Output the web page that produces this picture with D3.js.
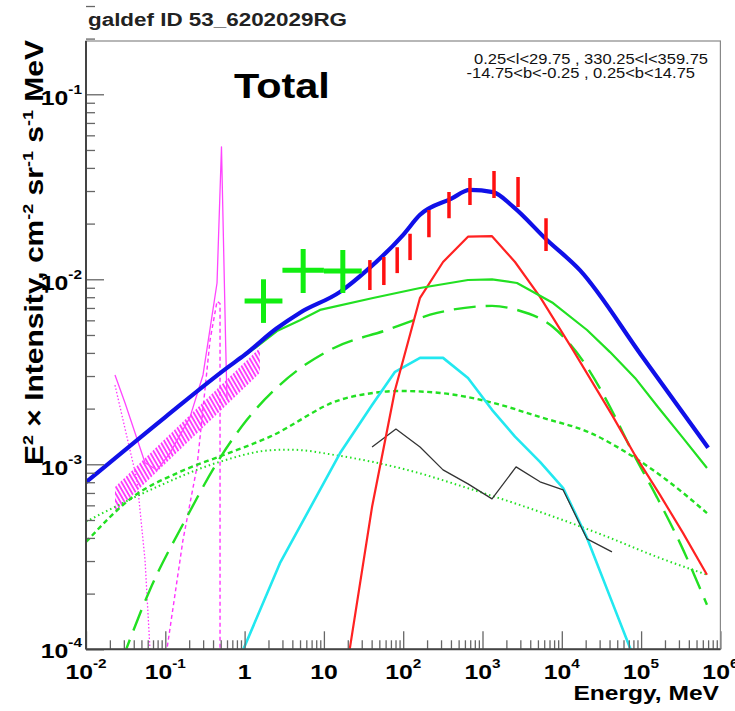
<!DOCTYPE html>
<html>
<head>
<meta charset="utf-8">
<script src="https://cdn.jsdelivr.net/npm/d3@7"></script>
<style>
  body { margin: 0; background: #fff; }
  text { font-family: "Liberation Sans", Arial, Helvetica, sans-serif; }
</style>
</head>
<body>
<script>
const width = 735;
const height = 711;

// ---- data (energy in MeV, E^2 x intensity) ----
const totalE = [0.01, 0.1, 0.6, 1, 2.5, 5, 16, 35, 100, 163, 400, 695, 1356, 2427, 6500, 16900, 100000, 700000];
const totalI = [8.0e-4, 1.8e-3, 3.32e-3, 3.9e-3, 5.4e-3, 6.6e-3, 8.55e-3, 1.12e-2, 1.74e-2, 2.23e-2, 2.72e-2, 3.04e-2, 2.96e-2, 2.47e-2, 1.63e-2, 1.12e-2, 3.9e-3, 1.23e-3];

const sumE = [1, 2.56, 5, 8.93, 41.6, 163, 656, 1318, 2723, 7760, 20800, 40600, 83800, 163000, 337000, 677000];
const sumI = [3.85e-3, 5.25e-3, 6.0e-3, 6.83e-3, 7.92e-3, 8.97e-3, 9.91e-3, 1.0e-2, 9.55e-3, 7.44e-3, 5.32e-3, 4.04e-3, 2.93e-3, 2.04e-3, 1.39e-3, 9.55e-4];

const icE = [0.0284, 0.0641, 0.188, 0.449, 1.07, 2.79, 11.9, 62.5, 267, 1318, 2723, 7740, 20800, 40600, 79000, 158000, 309000, 677000];
const icI = [8.7e-5, 2.1e-4, 5.21e-4, 1.02e-3, 1.74e-3, 2.69e-3, 4.15e-3, 5.32e-3, 6.58e-3, 7.18e-3, 6.83e-3, 5.52e-3, 3.36e-3, 2.04e-3, 1.15e-3, 6.65e-4, 3.76e-4, 1.74e-4];

const bremE = [0.01, 0.0392, 0.153, 0.534, 2.09, 16, 41.6, 91, 291, 1245, 5310, 22700, 79000, 212000, 677000];
const bremI = [3.8e-4, 6.67e-4, 9.1e-4, 1.12e-3, 1.41e-3, 2.23e-3, 2.43e-3, 2.49e-3, 2.43e-3, 2.17e-3, 1.8e-3, 1.48e-3, 1.1e-3, 8.2e-4, 5.45e-4];

const dotE = [0.01, 0.0785, 0.449, 2.09, 3.7, 16, 112, 759, 5310, 37200, 158000, 677000];
const dotI = [4.9e-4, 7.55e-4, 1.02e-3, 1.19e-3, 1.2e-3, 1.11e-3, 9.33e-4, 7.28e-4, 5.53e-4, 4.06e-4, 3.16e-4, 2.53e-4];

const pi0E = [20.1, 40.5, 78.9, 163, 318, 656, 1318, 2570, 5310, 13800, 42900, 83800, 173000, 337000, 677000];
const pi0I = [8.7e-5, 5.89e-4, 2.52e-3, 7.94e-3, 1.24e-2, 1.7e-2, 1.71e-2, 1.24e-2, 8.04e-3, 4.15e-3, 1.85e-3, 1.12e-3, 6.83e-4, 4.26e-4, 2.53e-4];

const cyanE = [0.85, 2.79, 16, 40.5, 78.9, 163, 318, 656, 1318, 2570, 5310, 10400, 20800, 40600, 72400, 83000];
const cyanI = [8.8e-5, 2.92e-4, 1.15e-3, 2.09e-3, 3.16e-3, 3.76e-3, 3.76e-3, 2.93e-3, 1.97e-3, 1.41e-3, 1.03e-3, 7.44e-4, 4.0e-4, 1.92e-4, 1.02e-4, 8.8e-5];

const blackE = [40.5, 81, 163, 318, 656, 1318, 2650, 5310, 10400, 20800, 42900];
const blackI = [1.24e-3, 1.55e-3, 1.24e-3, 9.33e-4, 7.84e-4, 6.5e-4, 9.68e-4, 8.04e-4, 7.27e-4, 3.95e-4, 3.36e-4];

const magSolidE = [0.0232, 0.031, 0.0555, 0.0786, 0.1146, 0.205, 0.299, 0.449, 0.511, 0.578, 0.6];
const magSolidI = [3.04e-3, 2.15e-3, 1.02e-3, 9.31e-4, 1.15e-3, 1.8e-3, 3.04e-3, 9.55e-3, 5.2e-2, 4.33e-3, 2.23e-3];

const magDotE = [0.0232, 0.0329, 0.044, 0.0555, 0.0641, 0.0653];
const magDotI = [2.68e-3, 1.4e-3, 8.2e-4, 3.04e-4, 1.0e-4, 8.7e-5];

const magDashE = [0.1, 0.167, 0.251, 0.367, 0.449, 0.49, 0.49];
const magDashI = [8.7e-5, 3.89e-4, 9.68e-4, 4.7e-3, 7.6e-3, 7.4e-3, 8.7e-5];

const bandE = [0.0232, 1.56];
const bandHi = [7.53e-4, 4.26e-3];
const bandLo = [5.52e-4, 3.12e-3];

// EGRET-like points (vertical error bars only)
const egretE = [38, 57, 84, 122, 211, 378, 695, 1397, 2806, 6324];
const egretLo = [8.75e-3, 9.31e-3, 1.08e-2, 1.27e-2, 1.69e-2, 2.14e-2, 2.52e-2, 2.75e-2, 2.46e-2, 1.42e-2];
const egretHi = [1.27e-2, 1.32e-2, 1.49e-2, 1.76e-2, 2.37e-2, 2.96e-2, 3.53e-2, 3.85e-2, 3.57e-2, 2.14e-2];

// COMPTEL-like crosses
const comptelElo = [1, 3, 10];
const comptelEhi = [3, 10, 30];
const comptelI = [7.64e-3, 1.12e-2, 1.11e-2];
const comptelLo = [5.81e-3, 8.43e-3, 8.43e-3];
const comptelHi = [1.0e-2, 1.46e-2, 1.44e-2];

const xMajor = [1e-2, 1e-1, 1, 10, 1e2, 1e3, 1e4, 1e5, 1e6];
const xLabelBase = ["10", "10", "1", "10", "10", "10", "10", "10", "10"];
const xLabelExp = ["-2", "-1", "", "", "2", "3", "4", "5", "6"];
const yMajor = [1e-4, 1e-3, 1e-2, 1e-1];
const yLabelExp = ["-4", "-3", "-2", "-1"];

/////////////////////////////////
const pLeft = 86, pRight = 720.4, pTop = 41, pBottom = 649.3;
const yTop = Math.pow(10, -0.712);
const sx = 1.18; // root fonts come out wider than liberation

const x = d3.scaleLog().domain([1e-2, 1e6]).range([pLeft, pRight]);
const y = d3.scaleLog().domain([1e-4, yTop]).range([pBottom, pTop]);

const svg = d3.select("body").append("svg")
  .attr("width", width)
  .attr("height", height);

svg.append("rect").attr("width", width).attr("height", height).attr("fill", "#fff");

const defs = svg.append("defs");
defs.append("clipPath").attr("id", "plotclip")
  .append("rect")
  .attr("x", pLeft).attr("y", pTop)
  .attr("width", pRight - pLeft).attr("height", pBottom - pTop);

const pat = defs.append("pattern")
  .attr("id", "hatch")
  .attr("patternUnits", "userSpaceOnUse")
  .attr("width", 3.6).attr("height", 4)
  .attr("patternTransform", "rotate(-30)");
pat.append("line")
  .attr("x1", 1).attr("y1", 0).attr("x2", 1).attr("y2", 4)
  .attr("stroke", "#ff2eff").attr("stroke-width", 1.8);

const plot = svg.append("g").attr("clip-path", "url(#plotclip)");

// hatched band
const band = d3.area()
  .x((d) => x(d[0]))
  .y0((d) => y(d[2]))
  .y1((d) => y(d[1]));
plot.append("path")
  .datum(d3.zip(bandE, bandHi, bandLo))
  .attr("d", band)
  .attr("fill", "url(#hatch)");

const lineLin = d3.line().x((d) => x(d[0])).y((d) => y(d[1]));
const lineSmooth = d3.line().x((d) => x(d[0])).y((d) => y(d[1])).curve(d3.curveMonotoneX);

const drawLine = (E, I, color, w, dash, gen) => {
  plot.append("path")
    .datum(d3.zip(E, I))
    .attr("d", gen || lineLin)
    .attr("fill", "none")
    .attr("stroke", color)
    .attr("stroke-width", w)
    .attr("stroke-dasharray", dash || null)
    .attr("stroke-linejoin", "round");
};

const green = "#22e022";
drawLine(magDotE, magDotI, "#ff33ff", 1.3, "1.5,2");
drawLine(magDashE, magDashI, "#ff33ff", 1.4, "4,3");
drawLine(magSolidE, magSolidI, "#ff44ff", 1.3);
drawLine(dotE, dotI, green, 2, "1.5,3", lineSmooth);
drawLine(bremE, bremI, green, 2.4, "5,3.5", lineSmooth);
drawLine(icE, icI, green, 2.4, "22,10", lineSmooth);
drawLine(cyanE, cyanI, "#22e8f0", 2.6);
drawLine(blackE, blackI, "#333333", 1.3);
drawLine(pi0E, pi0I, "#ff2222", 2.2);
drawLine(sumE, sumI, green, 2.2);
drawLine(totalE, totalI, "#1010e8", 4.2, null, lineSmooth);

// data points
plot.selectAll("line.egret")
  .data(d3.range(egretE.length))
  .join("line")
  .attr("class", "egret")
  .attr("x1", (i) => x(egretE[i])).attr("x2", (i) => x(egretE[i]))
  .attr("y1", (i) => y(egretLo[i])).attr("y2", (i) => y(egretHi[i]))
  .attr("stroke", "#ff1010").attr("stroke-width", 3.5);

const comptel = plot.selectAll("g.comptel")
  .data(d3.range(comptelI.length))
  .join("g")
  .attr("class", "comptel");
comptel.append("line")
  .attr("x1", (i) => x(comptelElo[i])).attr("x2", (i) => x(comptelEhi[i]))
  .attr("y1", (i) => y(comptelI[i])).attr("y2", (i) => y(comptelI[i]))
  .attr("stroke", "#11ee11").attr("stroke-width", 5);
comptel.append("line")
  .attr("x1", (i) => x(Math.sqrt(comptelElo[i] * comptelEhi[i])))
  .attr("x2", (i) => x(Math.sqrt(comptelElo[i] * comptelEhi[i])))
  .attr("y1", (i) => y(comptelLo[i])).attr("y2", (i) => y(comptelHi[i]))
  .attr("stroke", "#11ee11").attr("stroke-width", 5);

// ---- axes (ROOT style, ticks inside) ----
const xMinor = [];
for (let e = -2; e < 6; e++) for (let k = 2; k <= 9; k++) xMinor.push(k * Math.pow(10, e));
const yMinor = [];
for (let e = -4; e < 0; e++) for (let k = 2; k <= 9; k++) yMinor.push(k * Math.pow(10, e));

const tickColor = "#666";
const styleAxis = (g) => {
  g.select(".domain").remove();
  g.selectAll("line").attr("stroke", tickColor).attr("stroke-width", 1.3);
  g.selectAll("text").remove();
};

svg.append("g").attr("transform", "translate(0," + pBottom + ")")
  .call(d3.axisBottom(x).tickValues(xMinor).tickSize(-9)).call(styleAxis);
svg.append("g").attr("transform", "translate(0," + pBottom + ")")
  .call(d3.axisBottom(x).tickValues(xMajor).tickSize(-18)).call(styleAxis);
svg.append("g").attr("transform", "translate(" + pLeft + ",0)")
  .call(d3.axisLeft(y).tickValues(yMinor).tickSize(-9)).call(styleAxis);
svg.append("g").attr("transform", "translate(" + pLeft + ",0)")
  .call(d3.axisLeft(y).tickValues(yMajor).tickSize(-18)).call(styleAxis);

// frame
svg.append("rect")
  .attr("x", pLeft).attr("y", pTop)
  .attr("width", pRight - pLeft).attr("height", pBottom - pTop)
  .attr("fill", "none").attr("stroke", "#888").attr("stroke-width", 1.2);
svg.append("line")
  .attr("x1", pLeft).attr("x2", pLeft).attr("y1", pTop).attr("y2", pBottom)
  .attr("stroke", "#444").attr("stroke-width", 2);
svg.append("line")
  .attr("x1", pLeft).attr("x2", pRight).attr("y1", pBottom).attr("y2", pBottom)
  .attr("stroke", "#444").attr("stroke-width", 2);

// tick labels
const xl = svg.selectAll("text.xlab")
  .data(d3.range(xMajor.length))
  .join("text")
  .attr("class", "xlab")
  .attr("transform", (i) => "translate(" + x(xMajor[i]) + ",679) scale(" + sx + ",1)")
  .attr("text-anchor", "middle")
  .attr("font-size", 21)
  .attr("font-weight", "bold");
xl.append("tspan").text((i) => xLabelBase[i]);
xl.append("tspan")
  .attr("dy", -11)
  .attr("font-size", 13)
  .text((i) => xLabelExp[i]);

const yl = svg.selectAll("text.ylab")
  .data(d3.range(yMajor.length))
  .join("text")
  .attr("class", "ylab")
  .attr("transform", (i) => "translate(82," + (y(yMajor[i]) + (i === 0 ? 9 : 11)) + ") scale(" + sx + ",1)")
  .attr("text-anchor", "end")
  .attr("font-size", 21)
  .attr("font-weight", "bold");
yl.append("tspan").text("10");
yl.append("tspan")
  .attr("dy", -11)
  .attr("font-size", 13)
  .text((i) => yLabelExp[i]);

// titles
svg.append("text")
  .attr("transform", "translate(88,26) scale(" + sx + ",1)")
  .attr("font-size", 19).attr("font-weight", "bold")
  .attr("fill", "#222")
  .text("galdef ID 53_6202029RG");

svg.append("text")
  .attr("transform", "translate(234,98) scale(1.15,1)")
  .attr("font-size", 36).attr("font-weight", "bold")
  .text("Total");

svg.append("text")
  .attr("transform", "translate(708,64) scale(" + sx + ",1)")
  .attr("text-anchor", "end")
  .attr("font-size", 14)
  .attr("fill", "#111")
  .text("0.25<l<29.75 , 330.25<l<359.75");
svg.append("text")
  .attr("transform", "translate(695,78) scale(" + sx + ",1)")
  .attr("text-anchor", "end")
  .attr("font-size", 14)
  .attr("fill", "#111")
  .text("-14.75<b<-0.25 ,  0.25<b<14.75");

svg.append("text")
  .attr("transform", "translate(719,700) scale(1.17,1)")
  .attr("text-anchor", "end")
  .attr("font-size", 21).attr("font-weight", "bold")
  .text("Energy, MeV");

const yt = svg.append("text")
  .attr("transform", "translate(43,40) rotate(-90) scale(1.2,1)")
  .attr("text-anchor", "end")
  .attr("font-size", 25).attr("font-weight", "bold");
yt.append("tspan").text("E");
yt.append("tspan").attr("dy", -10).attr("font-size", 15).text("2");
yt.append("tspan").attr("dy", 10).text(" \u00d7 Intensity, cm");
yt.append("tspan").attr("dy", -10).attr("font-size", 15).text("-2");
yt.append("tspan").attr("dy", 10).text(" sr");
yt.append("tspan").attr("dy", -10).attr("font-size", 15).text("-1");
yt.append("tspan").attr("dy", 10).text(" s");
yt.append("tspan").attr("dy", -10).attr("font-size", 15).text("-1");
yt.append("tspan").attr("dy", 10).text(" MeV");
</script>
</body>
</html>
